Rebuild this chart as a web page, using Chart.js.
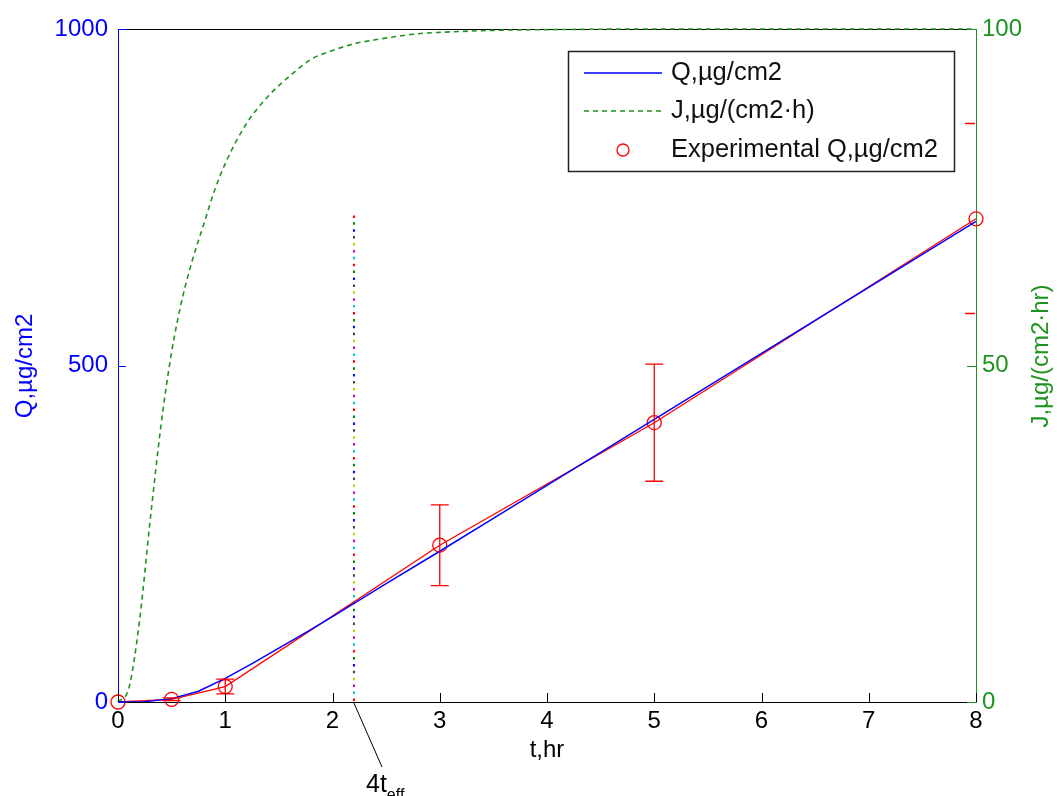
<!DOCTYPE html>
<html><head><meta charset="utf-8">
<script src="https://cdn.jsdelivr.net/npm/chart.js@4"></script>
<style>html,body{margin:0;padding:0;background:#fff;}canvas{display:block;}</style>
</head><body>
<canvas id="c" width="1057" height="796"></canvas>
<script>
// ---- data ----
const modelT = [0,0.25,0.5,0.75,1,1.25,1.5,1.75,2,2.5,3,3.5,4,4.5,5,5.5,6,6.5,7,7.5,8];
const modelQ = [0,0.5,5,16,35,57,80,103,127,176,224,273,322,371,420,469,518,567,616,665,714];
const fluxT = [0,0.1,0.2,0.3,0.4,0.5,0.6,0.7,0.8,0.9,1.0,1.2,1.4,1.6,1.8,2.0,2.2,2.4,2.6,2.8,3.0,3.5,4,5,6,7,8];
const fluxJ = [0,2,12,27,41,52,60,66,71,76,80,86,90,93,95.5,96.8,97.8,98.4,98.9,99.3,99.5,99.8,99.9,100,100,100,100];
const expT = [0,0.5,1,3,5,8];
const expQ = [0,4,23,233,415,718];
const expErr = [0,2,11,60,87,0];
const xTicks = [0,1,2,3,4,5,6,7,8];
const qTicks = [0,500,1000];
const jTicks = [0,50,100];
const redTicksJ = [86,57.8];
const lagT = 2.2;
const lagTopQ = 723;
const lagColors = ['#ff0000','#008000','#0000ff','#404040','#c8c800','#c800c8','#00c8c8'];
const legendLabels = ['Q,\u00b5g/cm2','J,\u00b5g/(cm2\u00b7h)','Experimental Q,\u00b5g/cm2'];
const qTitle = 'Q,\u00b5g/cm2';
const jTitle = 'J,\u00b5g/(cm2\u00b7hr)';
const xTitle = 't,hr';

const BLUE='#0000ff', GREEN='#1f931f', RED='#ff0000';
const FONT='"Liberation Sans", Arial, sans-serif';

const toXY = (xs, ys) => xs.map((v,i)=>({x:v, y:ys[i]}));

const lagSets = lagColors.map((c,k)=>({
  data:[{x:lagT,y:lagTopQ},{x:lagT,y:0}],
  yAxisID:'y', borderColor:c, borderWidth:2, pointRadius:0,
  borderDash:[2.5,45.8], borderDashOffset:-k*6.9, fill:false
}));

const deco = {
  id:'deco',
  beforeDatasetsDraw(chart){
    const {ctx, chartArea:a} = chart;
    ctx.save();
    ctx.strokeStyle='#000'; ctx.lineWidth=1;
    ctx.beginPath(); ctx.moveTo(a.left,a.top+0.5); ctx.lineTo(a.right,a.top+0.5); ctx.stroke();
    ctx.restore();
  },
  afterDatasetsDraw(chart){
    const {ctx, chartArea:a, scales:{x,y,y2}} = chart;
    ctx.save();
    // error bars
    ctx.strokeStyle=RED; ctx.lineWidth=1.3;
    expT.forEach((t,i)=>{
      if(!expErr[i]) return;
      const px=x.getPixelForValue(t);
      const p1=y.getPixelForValue(expQ[i]-expErr[i]);
      const p2=y.getPixelForValue(expQ[i]+expErr[i]);
      ctx.beginPath();
      ctx.moveTo(px,p1);ctx.lineTo(px,p2);
      ctx.moveTo(px-9,p1);ctx.lineTo(px+9,p1);
      ctx.moveTo(px-9,p2);ctx.lineTo(px+9,p2);
      ctx.stroke();
    });
    // x ticks (inward)
    ctx.strokeStyle='#000'; ctx.lineWidth=1;
    ctx.beginPath();
    xTicks.forEach(t=>{const px=Math.round(x.getPixelForValue(t))+0.5; ctx.moveTo(px,a.bottom); ctx.lineTo(px,a.bottom-9);});
    ctx.stroke();
    // left ticks
    ctx.strokeStyle=BLUE; ctx.beginPath();
    qTicks.forEach(v=>{const py=Math.round(y.getPixelForValue(v))+0.5; ctx.moveTo(a.left,py); ctx.lineTo(a.left+8,py);});
    ctx.stroke();
    // right ticks
    ctx.strokeStyle=GREEN; ctx.beginPath();
    jTicks.forEach(v=>{const py=Math.round(y2.getPixelForValue(v))+0.5; ctx.moveTo(a.right,py); ctx.lineTo(a.right-9,py);});
    ctx.stroke();
    ctx.strokeStyle=RED; ctx.lineWidth=1.5; ctx.beginPath();
    redTicksJ.forEach(v=>{const py=Math.round(y2.getPixelForValue(v))+0.5; ctx.moveTo(a.right-1,py); ctx.lineTo(a.right-11,py);});
    ctx.stroke();

    // legend
    ctx.fillStyle='#fff'; ctx.fillRect(568,51,387,121);
    ctx.strokeStyle='#222'; ctx.lineWidth=1.5; ctx.strokeRect(568.5,51.5,386,120);
    const rows=[73,111,150];
    ctx.lineWidth=1.5;
    ctx.strokeStyle=BLUE; ctx.beginPath(); ctx.moveTo(584,rows[0]); ctx.lineTo(662,rows[0]); ctx.stroke();
    ctx.strokeStyle=GREEN; ctx.setLineDash([5,4]); ctx.beginPath(); ctx.moveTo(584,rows[1]); ctx.lineTo(662,rows[1]); ctx.stroke();
    ctx.setLineDash([]);
    ctx.strokeStyle=RED; ctx.lineWidth=1.3; ctx.beginPath(); ctx.arc(623,rows[2],6,0,Math.PI*2); ctx.stroke();
    ctx.fillStyle='#111'; ctx.font='25.5px '+FONT; ctx.textBaseline='middle'; ctx.textAlign='left';
    legendLabels.forEach((s,i)=>ctx.fillText(s,671,rows[i]));

    // axis titles
    ctx.font='24px '+FONT;
    ctx.textAlign='center';
    ctx.fillStyle=BLUE;
    ctx.save(); ctx.translate(25,366); ctx.rotate(-Math.PI/2); ctx.fillText(qTitle,0,0); ctx.restore();
    ctx.fillStyle=GREEN;
    ctx.save(); ctx.translate(1041,356); ctx.rotate(-Math.PI/2); ctx.fillText(jTitle,0,0); ctx.restore();
    ctx.fillStyle='#000';
    ctx.fillText(xTitle,547,750);

    // 4t_eff annotation
    const lx=x.getPixelForValue(lagT);
    ctx.strokeStyle='#000'; ctx.lineWidth=1;
    ctx.beginPath(); ctx.moveTo(lx,a.bottom+1); ctx.lineTo(382,767); ctx.stroke();
    ctx.textAlign='left'; ctx.textBaseline='alphabetic';
    ctx.font='25px '+FONT; ctx.fillText('4t',366,792);
    const w=ctx.measureText('4t').width;
    ctx.font='16px '+FONT; ctx.fillText('eff',366+w,800);
    ctx.restore();
  }
};

new Chart(document.getElementById('c'),{
  type:'line',
  data:{datasets:[
    {data:toXY(modelT,modelQ), yAxisID:'y', borderColor:BLUE, borderWidth:1.5, pointRadius:0, fill:false},
    {data:toXY(fluxT,fluxJ), yAxisID:'y2', borderColor:GREEN, borderWidth:1.6, borderDash:[5,4], pointRadius:0, fill:false, cubicInterpolationMode:'monotone', clip:6},
    {data:toXY(expT,expQ), yAxisID:'y', borderColor:RED, borderWidth:1.3, pointRadius:7, pointStyle:'circle',
      pointBackgroundColor:'rgba(0,0,0,0)', pointBorderColor:RED, pointBorderWidth:1.3, fill:false, clip:10},
    ...lagSets
  ]},
  options:{
    responsive:false, animation:false, devicePixelRatio:1,
    layout:{padding:{top:29,left:0,right:0,bottom:0}},
    plugins:{legend:{display:false}, tooltip:{enabled:false}},
    scales:{
      x:{type:'linear', min:0, max:8,
        afterFit:s=>{s.height=94;},
        afterBuildTicks:s=>{s.ticks=xTicks.map(v=>({value:v}));},
        grid:{display:false}, border:{display:true,color:'#000',width:1},
        ticks:{color:'#000', padding:-3, font:{size:24,family:FONT}, maxRotation:0, callback:v=>String(v)}},
      y:{position:'left', min:0, max:1000,
        afterFit:s=>{s.width=118;},
        afterBuildTicks:s=>{s.ticks=qTicks.map(v=>({value:v}));},
        grid:{display:false}, border:{display:true,color:BLUE,width:1},
        ticks:{color:BLUE, padding:2, font:{size:24,family:FONT}, callback:v=>String(v)}},
      y2:{position:'right', min:0, max:100,
        afterFit:s=>{s.width=81;},
        afterBuildTicks:s=>{s.ticks=jTicks.map(v=>({value:v}));},
        grid:{display:false}, border:{display:true,color:GREEN,width:1},
        ticks:{color:GREEN, padding:-2, font:{size:24,family:FONT}, callback:v=>String(v)}}
    }
  },
  plugins:[deco]
});
</script>
</body></html>
